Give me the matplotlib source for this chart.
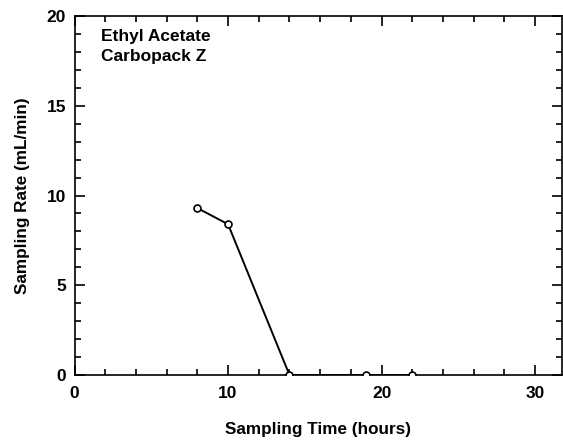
import matplotlib
matplotlib.use("Agg")
import matplotlib.pyplot as plt
from matplotlib.ticker import MultipleLocator

plt.rcParams['font.family'] = ['Liberation Sans', 'DejaVu Sans']
plt.rcParams['font.weight'] = 'bold'

sampling_time = [8, 10, 14, 19, 22]
sampling_rate = [9.3, 8.4, 0.0, 0.0, 0.0]

fig = plt.figure(figsize=(5.63, 4.44), dpi=100)
ax = fig.add_axes([74.5/563, 1-375/444, 487.5/563, 359/444])
ax.plot(sampling_time, sampling_rate, color='black', lw=1.4, marker='o',
        markersize=5, markerfacecolor='white', markeredgecolor='black',
        markeredgewidth=1.2, clip_on=True, zorder=3)

ax.set_xlim(0, 31.75)
ax.set_ylim(0, 20)
ax.xaxis.set_major_locator(MultipleLocator(10))
ax.xaxis.set_minor_locator(MultipleLocator(2))
ax.yaxis.set_major_locator(MultipleLocator(5))
ax.yaxis.set_minor_locator(MultipleLocator(1))
ax.tick_params(which='both', direction='in', top=True, right=True, width=1.2)
ax.tick_params(which='major', length=7, labelsize=12.5)
ax.tick_params(axis='x', which='major', pad=8)
ax.tick_params(axis='y', which='major', pad=6)
ax.tick_params(which='minor', length=4)
for lab in ax.get_xticklabels() + ax.get_yticklabels():
    lab.set_fontweight('bold')
for s in ax.spines.values():
    s.set_linewidth(1.2)

ax.set_xlabel('Sampling Time (hours)', fontsize=12.3, fontweight='bold', labelpad=15)
ax.set_ylabel('Sampling Rate (mL/min)', fontsize=12.3, fontweight='bold', labelpad=12)

ax.text(26.5/487.5, 1 - 13/359, 'Ethyl Acetate\nCarbopack Z', transform=ax.transAxes,
        fontsize=12.5, fontweight='bold', va='top', ha='left', linespacing=1.45)

fig.savefig('out.png', dpi=100)
